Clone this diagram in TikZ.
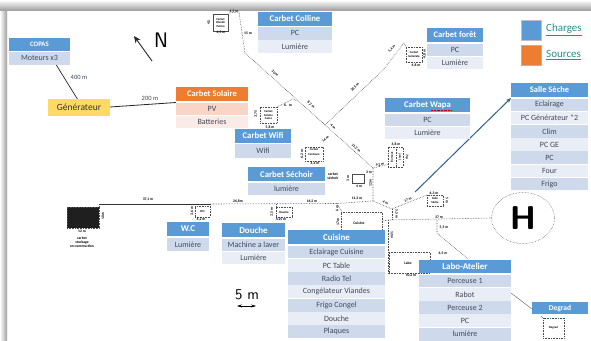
\documentclass[tikz,border=0pt]{standalone}
\usepackage{fontspec}
\setmainfont{Carlito}
\usetikzlibrary{arrows.meta,shapes.geometric}
\definecolor{hdrblue}{HTML}{5B9BD5}
\definecolor{rowa}{HTML}{CFD9EC}
\definecolor{rowb}{HTML}{E9EDF6}
\definecolor{hdrorange}{HTML}{ED7D31}
\definecolor{rowc}{HTML}{F8D5C7}
\definecolor{rowd}{HTML}{FBEBE6}
\definecolor{gen}{HTML}{FFD966}
\definecolor{txt}{HTML}{404A57}
\definecolor{teal2}{HTML}{2A8C8C}
\definecolor{wire}{HTML}{4A4A4A}
\definecolor{linkblue}{HTML}{2F5F8F}
\tikzset{
  cellbox/.style={anchor=center,inner sep=0pt,outer sep=0pt},
  headcell/.style={cellbox,font=\fontsize{#1}{#1}\selectfont\bfseries,text=white},
  bodycell/.style={cellbox,font=\fontsize{8}{8.5}\selectfont,text=txt},
  maplab/.style={inner sep=0pt,outer sep=0pt,font=\fontsize{3.7}{3.9}\selectfont\bfseries,text=black,align=center},
  hutbox/.style={draw=wire,densely dotted,line width=.6pt,inner sep=0pt,outer sep=0pt,align=center,font=\fontsize{3}{3.5}\selectfont\bfseries},
  wireline/.style={draw=wire,line width=.6pt,densely dotted},
}
% name, x0, x1, y0 (header top), y1 (header bottom), row height, header colour, row colours a/b, header size
\newcommand{\datatable}[9]{%
  \node[cellbox,fill=#7,minimum width={(#3-#2)*1pt},minimum height={(#5-#4)*1pt},headcell=#9] (#1) at ({(#2+#3)/2},{(#4+#5)/2}) {\tblhead};
  \foreach \t [count=\i] in \tblrows {%
    \pgfmathsetmacro{\ya}{#5+1.3+(\i-1)*#6}
    \pgfmathsetmacro{\yb}{\ya+#6}
    \pgfmathparse{int(mod(\i,2))}
    \ifnum\pgfmathresult=1\def\rc{#8a}\else\def\rc{#8b}\fi
    \node[bodycell,fill=\rc,minimum width={(#3-#2)*1pt},minimum height={(#6-.5)*1pt}] (#1-\i) at ({(#2+#3)/2},{(\ya+\yb)/2}) {\t};
  }%
}
\colorlet{bluea}{rowa}\colorlet{blueb}{rowb}
\colorlet{orangea}{rowc}\colorlet{orangeb}{rowd}
\newcount\labn
\newcommand{\lab}[4][0]{\global\advance\labn by 1
  \node[maplab,rotate=#1] (L\the\labn) at (#2,#3) {#4};}
\newcommand{\hut}[6]{\node[hutbox,minimum width={(#4-#2)*1pt},minimum height={(#5-#3)*1pt}] (#1) at ({(#2+#4)/2},{(#3+#5)/2}) {#6};}
\begin{document}
\begin{tikzpicture}[x=1pt,y=-1pt]
\useasboundingbox (0,0) rectangle (591,340);
\fill[white] (0,0) rectangle (591,340);
% slide shadow
\shade[top color=white,bottom color=black!38] (0,0) rectangle (591,10.5);
\shade[left color=white,right color=black!38] (0,11) rectangle (7,340);

% --- legend
\node[cellbox,fill=hdrblue,draw=black!25,line width=.6pt,minimum size=20pt] (legA) at (531,30) {};
\node[cellbox,fill=hdrorange,draw=black!30,line width=.6pt,minimum size=20pt] (legB) at (531,55) {};
\node[anchor=west,inner sep=0pt,text=teal2,font=\fontsize{11}{12}\selectfont] (legAt) at (546,30) {\underline{Charges}};
\node[anchor=west,inner sep=0pt,text=teal2,font=\fontsize{11}{12}\selectfont] (legBt) at (546,55) {\underline{Sources}};

% --- north and scale
\coordinate (nA) at (152,61);
\coordinate (nB) at (134,36);
\draw[black!85,line width=.9pt,-{Stealth[length=7pt,width=6pt]}] (nA) -- (nB);
\node[inner sep=0pt,font=\fontsize{21}{21}\selectfont\sffamily] (north) at (161,40) {N};
\node[inner sep=0pt,font=\fontsize{15}{15}\selectfont\sffamily] (scale) at (247,295) {5 m};
\coordinate (sA) at (237,306);
\coordinate (sB) at (256,306);
\draw[black,line width=.5pt,{Stealth[length=5pt,width=3pt]}-{Stealth[length=5pt,width=3pt]}] (sA) -- (sB);

% --- huts
\node[hutbox,draw=black!70,solid,minimum width=15pt,minimum height=17pt] (hutA) at (220.5,22.5) {Carbet\\Wandé\\Patma};
\hut{hutB}{406}{47}{422}{62}{Carbet\\Générale}
\hut{hutC}{260}{107}{277}{123}{Carbet\\Solaire\\Autre}
\hut{hutD}{305}{147}{323}{161}{\raisebox{5pt}{\shortstack{Carbet\\Centaure}}}
\node[hutbox,draw=wire,solid,minimum width=12pt,minimum height=9pt] (hutE) at (358,178.5) {};
\hut{hutF}{388}{147}{403}{167}{}
\node[hutbox,rotate=90,draw=none] (hutFa) at (392,157) {Bureaux};
\node[hutbox,rotate=90,draw=none] (hutFb) at (399.5,157) {Local};
\coordinate (hutFm) at (396,147);
\coordinate (hutFn) at (396,167);
\draw[wireline] (hutFm) -- (hutFn);
\hut{hutG}{427}{195}{443}{206}{Salle\\Sèche}
\hut{hutH}{195}{206}{210}{217}{W.C}
\hut{hutI}{276}{207}{292}{217}{Douche}
\hut{hutJ}{341}{212}{382}{230}{}
\node[maplab] (hutJt) at (359,223) {Cuisine};
\hut{hutK}{389}{252}{430}{273}{}
\node[maplab] (hutKt) at (408,263) {Labo};
\hut{hutL}{543}{318}{564}{338}{Degrad}
\node[fill=black!88,draw=wire,densely dotted,line width=.6pt,inner sep=0pt,outer sep=0pt,minimum width=32pt,minimum height=21pt] (store) at (83,217.5) {};

% --- junction coordinates
\coordinate (j1) at (229,13);
\coordinate (j2) at (239,12);
\coordinate (j3) at (245,53);
\coordinate (j4) at (325,125);
\coordinate (j5) at (373,168);
\coordinate (j6) at (373,201);
\coordinate (j7) at (337,203.5);
\coordinate (j8) at (99,204);
\coordinate (j9) at (210,204);
\coordinate (j10) at (392,209);
\coordinate (j11) at (392,220);
\coordinate (j12) at (388,220);
\coordinate (j13) at (437,220);
\coordinate (j14) at (437,233);
\coordinate (j15) at (468,259);
\coordinate (j16) at (293,99);
\coordinate (j17) at (297,101);
\coordinate (j18) at (383,70);
\coordinate (j19) at (404,43);
\coordinate (j20) at (276,204);
\coordinate (j21) at (342,212);
\coordinate (j22) at (388,273);

% --- the helipad
\node[draw=wire,densely dotted,line width=.5pt,ellipse,minimum width=63pt,minimum height=51pt,inner sep=0pt,outer sep=0pt,font=\fontsize{33}{33}\selectfont\bfseries\sffamily] (heli) at (523,218) {H};

% --- wiring
\draw[wireline] (j1) -- (j2) -- (j3) -- (j5);
\draw[wireline] (hutC.north east) -- (j16) -- (j17);
\draw[wireline] (j4) -- (j18) -- (j19) -- (hutB.north west);
\draw[wireline] (j5) -- (hutF.225);
\draw[wireline] (j5) -- (j6) -- (j7);
\draw[wireline] (j7) -- (j9);
\draw[black!80,line width=.6pt] (j8) -- (j9);
\draw[wireline] (j8) -- (store.north east);
\draw[wireline] (j9) -- (hutH.north east);
\draw[wireline] (j20) -- (hutI.north west);
\draw[wireline] (j7) -- (j21);
\draw[wireline] (j6) -- (j10) -- (hutG.north west);
\draw[wireline] (j10) -- (j11);
\draw[wireline] (hutJ.east) -- (j12) -- (heli.west);
\draw[wireline] (j12) -- (j22);
\draw[wireline] (j13) -- (j14) -- (j15);

% --- map labels
\lab{234}{11.5}{4,5 m}
\lab{221}{33}{4,5 m}
\lab[90]{209}{22.5}{4,5}
\lab{248}{33}{15 m}
\lab[-42]{275}{73.5}{30 m}
\lab[-42]{311}{105}{8,2 m}
\lab[45]{355}{87.5}{20,5 m}
\lab[50]{392}{49}{5,4 m}
\lab[90]{424.5}{54}{4,8 m}
\lab{416}{65}{4,8 m}
\lab[90]{256}{114}{3,75}
\lab{270}{127}{5,8 m}
\lab{288}{105}{6. \ m}
\lab[-42]{333}{127}{4 m}
\lab[42]{325.5}{139}{14 m}
\lab[-42]{356}{148}{11,2 m}
\lab[90]{302}{154}{6,2 m}
\lab{315}{164}{4,4 m}
\lab[12]{380}{165}{9,2 m}
\lab{396}{144.5}{4,8 m}
\lab[-90]{407}{157}{7 m}
\lab{369}{172}{3 m}
\lab[90]{370.5}{183}{12 m}
\lab[90]{348}{178.5}{3 m}
\lab{359}{186}{4 m}
\lab{357}{198.5}{11,3 m}
\lab[-30]{385.5}{202.5}{4 m}
\lab[22]{408}{199.5}{17 m}
\lab[-90]{396.5}{214}{5,5 m}
\lab{312}{201}{16,2 m}
\lab{238}{201}{26,8m}
\lab{148}{200}{37,1 m}
\lab[90]{103}{216}{10 m}
\lab{82}{231.5}{12 m}
\lab{82}{242}{carbet\\stockage\\en construction}
\lab{333}{176.5}{carbet\\séchoir}
\lab[90]{192}{211}{3,6 m}
\lab{201}{220}{4,2 m}
\lab[90]{272}{212}{3,5 m}
\lab{281}{220}{4,25 m}
\lab[90]{338}{222}{17 m}
\lab[90]{337}{208.5}{6 m}
\lab[-90]{392}{235}{12 m}
\lab{411}{276}{10,2 m}
\lab{439}{217.5}{37 m}
\lab{444}{227.5}{5,5 m}
\lab{443}{253}{6,5 m}
\lab[-90]{447}{200.5}{5 m}
\lab{434}{193}{6,3 m}

% --- long links
\coordinate (gA) at (56,64.5);
\coordinate (gB) at (78,100);
\draw[black!85,line width=.7pt] (gA) -- (gB);
\node[inner sep=0pt,text=txt,font=\fontsize{6.5}{7}\selectfont] (d400) at (79,77.5) {400 m};
\node[cellbox,fill=gen,minimum width=62pt,minimum height=17pt,font=\fontsize{9.5}{10}\selectfont,text=black!80] (gener) at (79,107) {Générateur};
\coordinate (gC) at (176,102.5);
\draw[black!85,line width=.8pt] (gener.east) -- (gC);
\node[inner sep=0pt,text=txt,font=\fontsize{6.5}{7}\selectfont] (d200) at (150,98.5) {200 m};
\coordinate (bA) at (415,192);
\coordinate (bB) at (511,98);
\draw[linkblue,line width=1pt,-{Stealth[length=5pt,width=4pt]}] (bA) -- (bB);
\coordinate (dA) at (511,293);
\coordinate (dB) at (532,309);
\draw[black!55,line width=.5pt] (dA) -- (dB);
\coordinate (dC) at (541,316);
\draw[black!55,line width=.5pt] (dC) -- (hutL.north west);

% --- tables
\def\tblhead{COPAS}\def\tblrows{Moteurs x3}
\datatable{copas}{9}{70}{38}{50.5}{13}{hdrblue}{blue}{6.8}
\def\tblhead{Carbet Colline}\def\tblrows{PC,Lumière}
\datatable{colline}{258}{332}{12}{25.5}{13}{hdrblue}{blue}{8.7}
\def\tblhead{Carbet forêt}\def\tblrows{PC,Lumière}
\datatable{foret}{427}{483}{28}{42}{13}{hdrblue}{blue}{8.5}
\def\tblhead{Carbet Solaire}\def\tblrows{PV,Batteries}
\datatable{solaire}{176}{248}{87}{101}{13}{hdrorange}{orange}{8.5}
\def\tblhead{Carbet Wapa}\def\tblrows{PC,Lumière}
\datatable{wapa}{385}{470}{98}{112}{13}{hdrblue}{blue}{8.7}
\def\tblhead{Salle Sèche}\def\tblrows{Eclairage,PC Générateur *2,Clim,PC GE,PC,Four,Frigo}
\datatable{salle}{511}{588}{83}{97}{13.2}{hdrblue}{blue}{8.5}
\def\tblhead{Carbet Wifi}\def\tblrows{Wifi}
\datatable{wifi}{235}{291}{129}{142.5}{14}{hdrblue}{blue}{8.7}
\def\tblhead{Carbet Séchoir}\def\tblrows{lumière}
\datatable{sechoir}{248}{325}{167}{181}{13}{hdrblue}{blue}{8.7}
\def\tblhead{W.C}\def\tblrows{Lumière}
\datatable{wc}{167}{209}{222}{236}{14}{hdrblue}{blue}{9}
\def\tblhead{Douche}\def\tblrows{Machine a laver,Lumière}
\datatable{douche}{222}{285}{223}{237}{13}{hdrblue}{blue}{9}
\def\tblhead{Cuisine}\def\tblrows{Eclairage Cuisine,PC Table,Radio Tel,Congélateur  Viandes,Frigo Congel,Douche,Plaques}
\datatable{cuisine}{288}{385}{230}{244}{13.3}{hdrblue}{blue}{9}
\def\tblhead{Labo-Atelier}\def\tblrows{Perceuse 1,Rabot,Perceuse 2,PC,lumière}
\datatable{labo}{419}{511}{260}{273}{13.3}{hdrblue}{blue}{9}
\node[cellbox,fill=hdrblue,minimum width=56pt,minimum height=12pt,headcell=7.5] (degrad) at (560,308) {Degrad};
% spell-check mark under Wapa, as in the reference
\coordinate (wA) at (431,110.5);
\coordinate (wB) at (452,110.5);
\draw[red!75!black,line width=.4pt,densely dotted] (wA) -- (wB);
\end{tikzpicture}
\end{document}
